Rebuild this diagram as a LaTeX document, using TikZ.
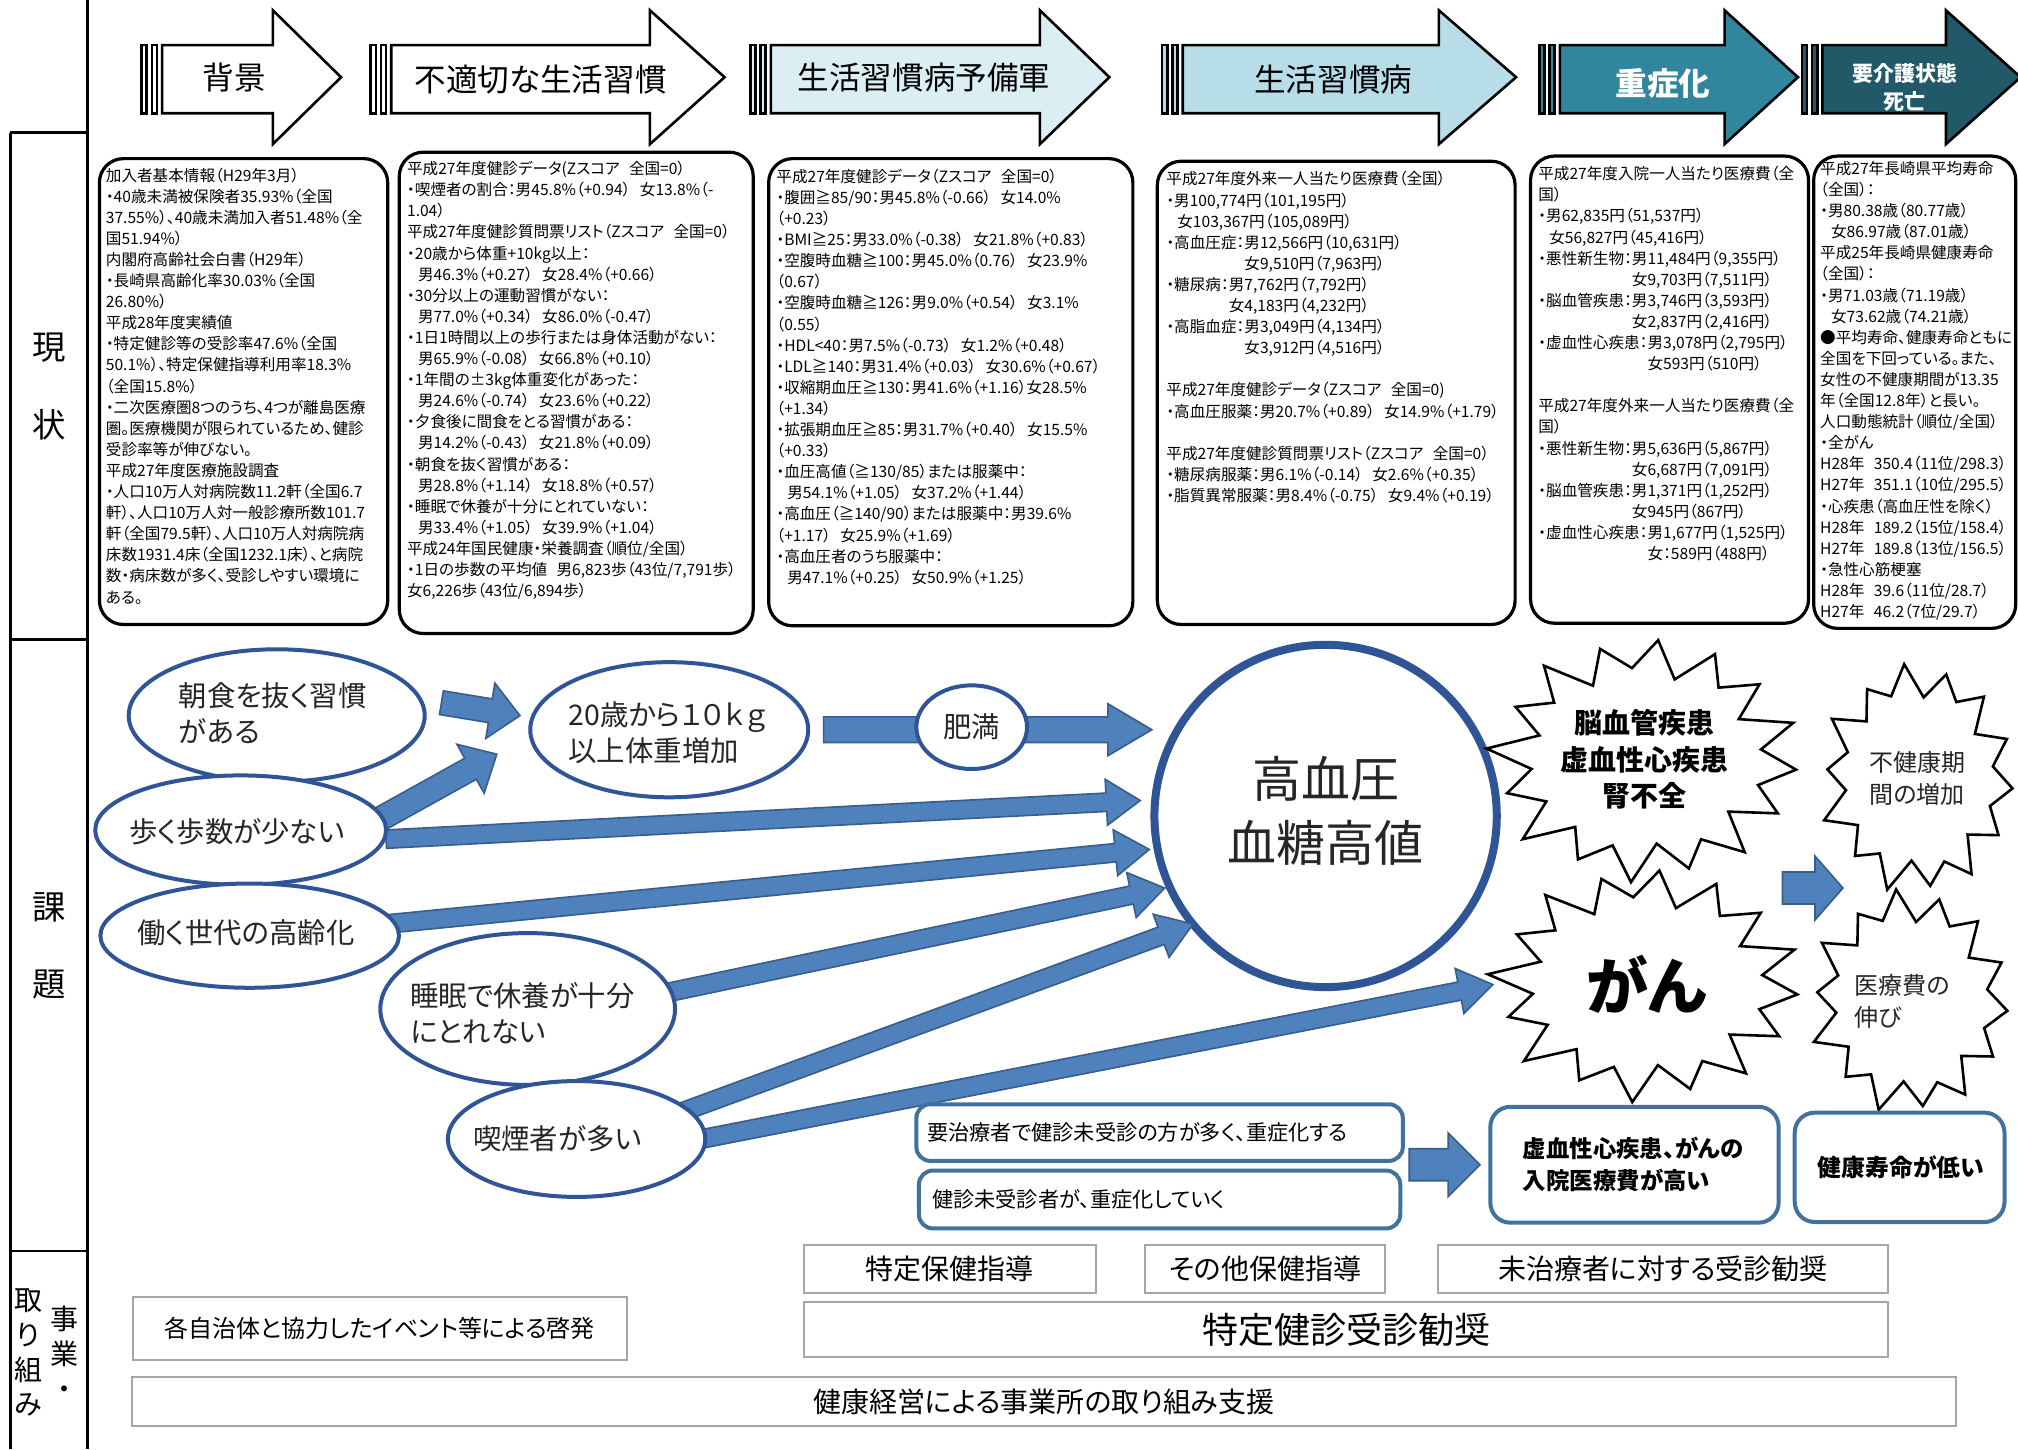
\documentclass[tikz,border=0pt]{standalone}
\usepackage{fontspec}
\setmainfont{Noto Sans CJK JP}[RawFeature=+palt]
\usetikzlibrary{calc,shapes.geometric}
\def\pxu{0.6435pt}
\def\sp{\hspace{0.6em}}
\definecolor{ebl}{HTML}{2F5597}
\definecolor{afill}{HTML}{4F81BD}
\definecolor{aline}{HTML}{385D8A}
\definecolor{lbA}{HTML}{DAEEF3}
\definecolor{lbB}{HTML}{B7DEE8}
\definecolor{tlA}{HTML}{31859C}
\definecolor{tlB}{HTML}{215968}
\definecolor{gbord}{HTML}{A6A6A6}
\definecolor{rbord}{HTML}{41719C}
\definecolor{txt}{HTML}{262626}
\tikzset{
 hdst/.style={draw=black, line width=1.3pt, line join=miter},
 hdtxt/.style={font=\fontsize{15.8}{18}\selectfont, inner sep=0pt},
 ibox/.style={draw=black, line width=1.6pt, rounded corners=12pt, fill=white, inner sep=0pt, anchor=north west},
 btxt/.style={align=left, inner sep=0pt, anchor=north west, font=\fontsize{7.8}{10.55}\selectfont},
 ell/.style={ellipse, draw=ebl, line width=2pt, fill=white, inner sep=0pt},
 etxt/.style={align=left, inner sep=0pt, font=\fontsize{14.2}{18}\selectfont, text=txt},
 barst/.style={draw=aline, line width=0.8pt, fill=afill, line join=miter},
 burstst/.style={draw=black, line width=1.3pt, fill=white, line join=miter},
 stxt/.style={align=center, inner sep=0pt, font=\bfseries\fontsize{14}{18.4}\selectfont},
 gbox/.style={draw=gbord, line width=1pt, inner sep=0pt, fill=white},
 rbox/.style={draw=rbord, line width=2pt, rounded corners=7pt, inner sep=0pt, fill=white},
 lbl/.style={font=\fontsize{16.7}{20}\selectfont, inner sep=0pt},
 lblv/.style={font=\fontsize{14}{17.4}\selectfont, inner sep=0pt, align=center},
 frame/.style={draw=black, line width=1.3pt},
}
% header arrow: x0, xhead, xtip, fill
\newcommand\hdarrow[4]{%
 \draw[hdst, fill=#4] (#1,35) rectangle (#1+4,88);
 \draw[hdst, fill=#4] (#1+8,35) rectangle (#1+12,88);
 \draw[hdst, fill=#4] (#1+16,35) -- (#2,35) -- (#2,8) -- (#3,60) -- (#2,112) -- (#2,88) -- (#1+16,88) -- cycle;}
% block arrow: from, to, half shaft, half head, head length
\newcommand\blockarrow[5]{%
 \coordinate (bh) at ($(#2)!#5!(#1)$);
 \draw[barst] ($(#1)!#3!90:(#2)$) -- ($(bh)!#3!-90:(#1)$) -- ($(bh)!#4!-90:(#1)$) -- (#2) -- ($(bh)!#4!90:(#1)$) -- ($(bh)!#3!90:(#1)$) -- ($(#1)!#3!-90:(#2)$) -- cycle;}
% burst: cx, cy, rx, ry, last index, vertices, ratio
\newcommand\burst[7]{%
 \draw[burstst] plot[samples at={0,...,#5}, variable=\k]
 ({#1+#3*(1-(1-#7)*mod(\k,2))*(1+0.05*sin(\k*97))*cos(\k*360/#6+5)}, {#2+#4*(1-(1-#7)*mod(\k,2))*(1+0.05*sin(\k*97))*sin(\k*360/#6+5)}) -- cycle;}
\begin{document}
\begin{tikzpicture}[x=0.6435pt, y=-0.6435pt]
\useasboundingbox (0,0) rectangle (1568,1126);
\fill[white] (0,0) rectangle (1568,1126);

% frame
\draw[frame] (68,0) -- (68,1126);
\draw[frame] (8,103) -- (68,103);
\draw[frame] (8,497) -- (68,497);
\draw[frame] (8,972) -- (68,972);
\draw[frame] (8,103) -- (8,1126);
\node[lbl] (g1) at (38,270) {現};
\node[lbl] (g2) at (38,330) {状};
\node[lbl] (g3) at (38,705) {課};
\node[lbl] (g4) at (38,765) {題};
\node[lblv] (g5) at (22,1051) {取\\り\\組\\み};
\node[lblv] (g6) at (50,1051) {事\\業\\・};

% header arrows
\hdarrow{110}{212}{265}{white}
\hdarrow{288}{505}{563}{white}
\hdarrow{583}{808}{862}{lbA}
\hdarrow{903}{1118}{1178}{lbB}
\hdarrow{1196}{1340}{1397}{tlA}
\hdarrow{1400}{1512}{1570}{tlB}
\node[hdtxt] (h1) at (182,60) {背景};
\node[hdtxt] (h2) at (420,62) {不適切な生活習慣};
\node[hdtxt] (h3) at (718,60) {生活習慣病予備軍};
\node[hdtxt] (h4) at (1036,62) {生活習慣病};
\node[hdtxt, text=white, font=\bfseries\fontsize{15.8}{18}\selectfont] (h5) at (1292,65) {重症化};
\node[inner sep=0pt, align=center, text=white, font=\bfseries\fontsize{10.5}{14}\selectfont] (h6) at (1480,68) {要介護状態\\死亡};

% info boxes
\node[ibox, minimum width={224*\pxu}, minimum height={362*\pxu}] (b1) at (76,122) {};
\node[ibox, minimum width={275*\pxu}, minimum height={374*\pxu}] (b2) at (309,117) {};
\node[ibox, minimum width={283*\pxu}, minimum height={363*\pxu}] (b3) at (596,122) {};
\node[ibox, minimum width={278*\pxu}, minimum height={360*\pxu}] (b4) at (898,124) {};
\node[ibox, minimum width={216*\pxu}, minimum height={363*\pxu}] (b5) at (1188,120) {};
\node[ibox, minimum width={157*\pxu}, minimum height={367*\pxu}] (b6) at (1408,120) {};

\node[btxt] (b1t) at (82,130) {加入者基本情報（H29年3月）\\
・40歳未満被保険者35.93\%（全国\\
37.55\%）、40歳未満加入者51.48\%（全\\
国51.94\%）\\
内閣府高齢社会白書（H29年）\\
・長崎県高齢化率30.03\%（全国\\
26.80\%）\\
平成28年度実績値\\
・特定健診等の受診率47.6\%（全国\\
50.1\%）、特定保健指導利用率18.3\%\\
（全国15.8\%）\\
・二次医療圏8つのうち、4つが離島医療\\
圏。医療機関が限られているため、健診\\
受診率等が伸びない。\\
平成27年度医療施設調査\\
・人口10万人対病院数11.2軒（全国6.7\\
軒）、人口10万人対一般診療所数101.7\\
軒（全国79.5軒）、人口10万人対病院病\\
床数1931.4床（全国1232.1床）、と病院\\
数・病床数が多く、受診しやすい環境に\\
ある。};

\node[btxt] (b2t) at (316,125) {平成27年度健診データ(Zスコア\sp 全国=0）\\
・喫煙者の割合：男45.8\%（+0.94）\sp 女13.8\%（-\\
1.04）\\
平成27年度健診質問票リスト（Zスコア\sp 全国=0）\\
・20歳から体重+10kg以上：\\
\hspace{0.7em}男46.3\%（+0.27）\sp 女28.4\%（+0.66）\\
・30分以上の運動習慣がない：\\
\hspace{0.7em}男77.0\%（+0.34）\sp 女86.0\%（-0.47）\\
・1日1時間以上の歩行または身体活動がない：\\
\hspace{0.7em}男65.9\%（-0.08）\sp 女66.8\%（+0.10）\\
・1年間の±3kg体重変化があった：\\
\hspace{0.7em}男24.6\%（-0.74）\sp 女23.6\%（+0.22）\\
・夕食後に間食をとる習慣がある：\\
\hspace{0.7em}男14.2\%（-0.43）\sp 女21.8\%（+0.09）\\
・朝食を抜く習慣がある：\\
\hspace{0.7em}男28.8\%（+1.14）\sp 女18.8\%（+0.57）\\
・睡眠で休養が十分にとれていない：\\
\hspace{0.7em}男33.4\%（+1.05）\sp 女39.9\%（+1.04）\\
平成24年国民健康・栄養調査（順位/全国）\\
・1日の歩数の平均値\sp 男6,823歩（43位/7,791歩）\\
女6,226歩（43位/6,894歩）};

\node[btxt] (b3t) at (603,131) {平成27年度健診データ（Zスコア\sp 全国=0）\\
・腹囲≧85/90：男45.8\%（-0.66）\sp 女14.0\%\\
（+0.23）\\
・BMI≧25：男33.0\%（-0.38）\sp 女21.8\%（+0.83）\\
・空腹時血糖≧100：男45.0\%（0.76）\sp 女23.9\%\\
（0.67）\\
・空腹時血糖≧126：男9.0\%（+0.54）\sp 女3.1\%\\
（0.55）\\
・HDL<40：男7.5\%（-0.73）\sp 女1.2\%（+0.48）\\
・LDL≧140：男31.4\%（+0.03）\sp 女30.6\%（+0.67）\\
・収縮期血圧≧130：男41.6\%（+1.16）女28.5\%\\
（+1.34）\\
・拡張期血圧≧85：男31.7\%（+0.40）\sp 女15.5\%\\
（+0.33）\\
・血圧高値（≧130/85）または服薬中：\\
\hspace{0.7em}男54.1\%（+1.05）\sp 女37.2\%（+1.44）\\
・高血圧（≧140/90）または服薬中：男39.6\%\\
（+1.17）\sp 女25.9\%（+1.69）\\
・高血圧者のうち服薬中：\\
\hspace{0.7em}男47.1\%（+0.25）\sp 女50.9\%（+1.25）};

\node[btxt] (b4t) at (906,133) {平成27年度外来一人当たり医療費（全国）\\
・男100,774円（101,195円）\\
\hspace{0.7em}女103,367円（105,089円）\\
・高血圧症：男12,566円（10,631円）\\
\phantom{・高血圧症：}女9,510円（7,963円）\\
・糖尿病：男7,762円（7,792円）\\
\phantom{・糖尿病：}女4,183円（4,232円）\\
・高脂血症：男3,049円（4,134円）\\
\phantom{・高脂血症：}女3,912円（4,516円）\\
\mbox{}\\
平成27年度健診データ（Zスコア\sp 全国=0)\\
・高血圧服薬：男20.7\%（+0.89）\sp 女14.9\%（+1.79）\\
\mbox{}\\
平成27年度健診質問票リスト（Zスコア\sp 全国=0）\\
・糖尿病服薬：男6.1\%（-0.14）\sp 女2.6\%（+0.35）\\
・脂質異常服薬：男8.4\%（-0.75）\sp 女9.4\%（+0.19）};

\node[btxt] (b5t) at (1195,129) {平成27年度入院一人当たり医療費（全\\
国）\\
・男62,835円（51,537円）\\
\hspace{0.7em}女56,827円（45,416円）\\
・悪性新生物：男11,484円（9,355円）\\
\phantom{・悪性新生物：}女9,703円（7,511円）\\
・脳血管疾患：男3,746円（3,593円）\\
\phantom{・脳血管疾患：}女2,837円（2,416円）\\
・虚血性心疾患：男3,078円（2,795円）\\
\phantom{・虚血性心疾患：}女593円（510円）\\
\mbox{}\\
平成27年度外来一人当たり医療費（全\\
国）\\
・悪性新生物：男5,636円（5,867円）\\
\phantom{・悪性新生物：}女6,687円（7,091円）\\
・脳血管疾患：男1,371円（1,252円）\\
\phantom{・脳血管疾患：}女945円（867円）\\
・虚血性心疾患：男1,677円（1,525円）\\
\phantom{・虚血性心疾患：}女：589円（488円）};

\node[btxt] (b6t) at (1414,125) {平成27年長崎県平均寿命\\
（全国）：\\
・男80.38歳（80.77歳）\\
\hspace{0.7em}女86.97歳（87.01歳）\\
平成25年長崎県健康寿命\\
（全国）：\\
・男71.03歳（71.19歳）\\
\hspace{0.7em}女73.62歳（74.21歳）\\
●平均寿命、健康寿命ともに\\
全国を下回っている。また、\\
女性の不健康期間が13.35\\
年（全国12.8年）と長い。\\
人口動態統計（順位/全国）\\
・全がん\\
H28年\sp 350.4（11位/298.3）\\
H27年\sp 351.1（10位/295.5）\\
・心疾患（高血圧性を除く）\\
H28年\sp 189.2（15位/158.4）\\
H27年\sp 189.8（13位/156.5）\\
・急性心筋梗塞\\
H28年\sp 39.6（11位/28.7）\\
H27年\sp 46.2（7位/29.7）};

% big circle
\node[circle, draw=ebl, line width=4pt, fill=white, minimum size={266*\pxu}, inner sep=0pt] (c0) at (1030,634) {};
\node[inner sep=0pt, align=center, font=\fontsize{24.5}{32}\selectfont, text=txt] (c0t) at (1030,630) {高血圧\\血糖高値};

% coordinates for arrows
\coordinate (a1s) at (343,546); \coordinate (a1e) at (404,556);
\coordinate (a2s) at (296,636); \coordinate (a2e) at (386,586);
\coordinate (a3s) at (640,567); \coordinate (a3e) at (895,567);
\coordinate (a4s) at (300,652); \coordinate (a4e) at (886,622);
\coordinate (a5s) at (300,718); \coordinate (a5e) at (893,660);
\coordinate (a6s) at (515,772); \coordinate (a6e) at (905,690);
\coordinate (a7s) at (530,864); \coordinate (a7e) at (927,718);
\coordinate (a8s) at (540,886); \coordinate (a8e) at (1160,765);
\coordinate (a9s) at (1385,690); \coordinate (a9e) at (1432,690);
\coordinate (a10s) at (1095,905); \coordinate (a10e) at (1150,905);

\blockarrow{a1s}{a1e}{6pt}{14pt}{15pt}
\blockarrow{a2s}{a2e}{6pt}{14pt}{15pt}
\blockarrow{a3s}{a3e}{6.4pt}{13pt}{22pt}
\blockarrow{a4s}{a4e}{4.6pt}{11.5pt}{17pt}
\blockarrow{a5s}{a5e}{4.6pt}{11.5pt}{17pt}
\blockarrow{a6s}{a6e}{4.6pt}{11.5pt}{17pt}
\blockarrow{a7s}{a7e}{4.6pt}{11.5pt}{17pt}
\blockarrow{a8s}{a8e}{4.6pt}{11.5pt}{17pt}

% ellipses
\node[ell, minimum width={230*\pxu}, minimum height={103*\pxu}] (e1) at (215,556) {};
\node[etxt] (e1t) at (212,554) {朝食を抜く習慣\\がある};
\node[ell, minimum width={216*\pxu}, minimum height={105*\pxu}] (e2) at (520,567) {};
\node[etxt] (e2t) at (519,569) {20歳から１０ｋｇ\\以上体重増加};
\node[ell, minimum width={86*\pxu}, minimum height={65*\pxu}] (e3) at (755,565) {};
\node[etxt] (e3t) at (755,565) {肥満};
\node[ell, minimum width={226*\pxu}, minimum height={85*\pxu}] (e4) at (187,645) {};
\node[etxt] (e4t) at (184,646) {歩く歩数が少ない};
\node[ell, minimum width={232*\pxu}, minimum height={81*\pxu}] (e5) at (194,727) {};
\node[etxt] (e5t) at (191,725) {働く世代の高齢化};
\node[ell, minimum width={229*\pxu}, minimum height={118*\pxu}] (e6) at (410,784) {};
\node[etxt] (e6t) at (406,787) {睡眠で休養が十分\\にとれない};
\node[ell, minimum width={200*\pxu}, minimum height={90*\pxu}] (e7) at (448,885) {};
\node[etxt] (e7t) at (433,885) {喫煙者が多い};

% bursts
\burst{1278}{590}{118}{92}{31}{32}{0.74}
\node[stxt] (s1) at (1278,590) {脳血管疾患\\虚血性心疾患\\腎不全};
\burst{1490}{605}{74}{87}{27}{28}{0.76}
\node[etxt, font=\fontsize{12}{16}\selectfont] (s2) at (1490,605) {不健康期\\間の増加};
\burst{1279}{765}{118}{88}{31}{32}{0.74}
\node[inner sep=0pt, font=\bfseries\fontsize{31}{36}\selectfont] (s3) at (1279,765) {がん};
\burst{1484}{778}{76}{85}{27}{28}{0.76}
\node[etxt, font=\fontsize{12}{16}\selectfont] (s4) at (1478,778) {医療費の\\伸び};

\blockarrow{a9s}{a9e}{8pt}{16pt}{14pt}
\blockarrow{a10s}{a10e}{8pt}{16pt}{16pt}

% issue boxes
\node[rbox, minimum width={378*\pxu}, minimum height={44*\pxu}] (r1) at (901,880) {};
\node[inner sep=0pt, anchor=west, font=\fontsize{10.6}{13}\selectfont] (r1t) at (720,880) {要治療者で健診未受診の方が多く、重症化する};
\node[rbox, minimum width={374*\pxu}, minimum height={45*\pxu}] (r2) at (901,932) {};
\node[inner sep=0pt, anchor=west, font=\fontsize{10.6}{13}\selectfont] (r2t) at (724,932) {健診未受診者が、重症化していく};
\node[rbox, rounded corners=10pt, minimum width={224*\pxu}, minimum height={90*\pxu}] (r3) at (1270,905) {};
\node[inner sep=0pt, align=left, font=\bfseries\fontsize{11.7}{16}\selectfont] (r3t) at (1269,905) {虚血性心疾患、がんの\\入院医療費が高い};
\node[rbox, rounded corners=10pt, minimum width={163*\pxu}, minimum height={85*\pxu}] (r4) at (1476,907) {};
\node[inner sep=0pt, font=\bfseries\fontsize{11.9}{15}\selectfont] (r4t) at (1477,907) {健康寿命が低い};

% measures
\node[gbox, minimum width={227*\pxu}, minimum height={38*\pxu}, font=\fontsize{14}{16}\selectfont] (m1) at (738,986) {特定保健指導};
\node[gbox, minimum width={186*\pxu}, minimum height={38*\pxu}, font=\fontsize{14}{16}\selectfont] (m2) at (983,986) {その他保健指導};
\node[gbox, minimum width={350*\pxu}, minimum height={38*\pxu}, font=\fontsize{14}{16}\selectfont] (m3) at (1292,986) {未治療者に対する受診勧奨};
\node[gbox, minimum width={842*\pxu}, minimum height={43*\pxu}, font=\fontsize{18}{20}\selectfont] (m4) at (1046,1033) {特定健診受診勧奨};
\node[gbox, minimum width={384*\pxu}, minimum height={49*\pxu}, font=\fontsize{12}{14}\selectfont] (m5) at (295,1032) {各自治体と協力したイベント等による啓発};
\node[gbox, minimum width={1417*\pxu}, minimum height={38*\pxu}, font=\fontsize{14}{16}\selectfont] (m6) at (811,1089) {健康経営による事業所の取り組み支援};
\end{tikzpicture}
\end{document}
